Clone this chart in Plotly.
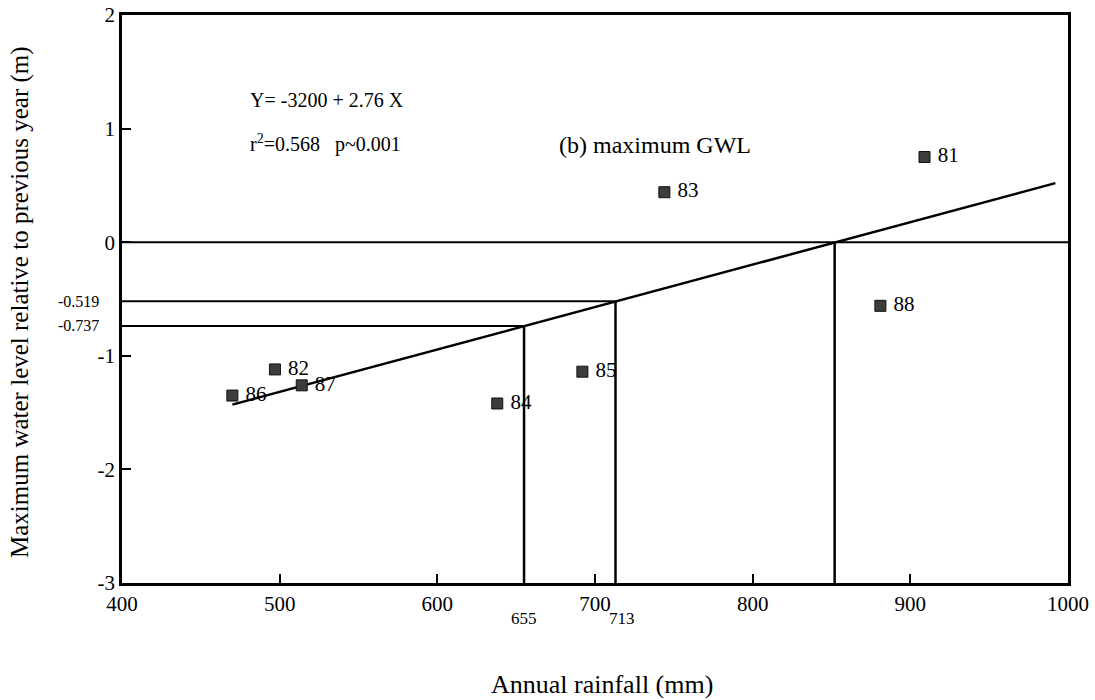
import plotly.graph_objects as go

# Data
years = ["81", "82", "83", "84", "85", "86", "87", "88"]
rainfall = [909, 497, 744, 638, 692, 470, 514, 881]
gwl_change = [0.75, -1.12, 0.44, -1.42, -1.14, -1.35, -1.26, -0.56]

reg_x = [470, 992]
reg_y = [-1.43, 0.52]

cross_x = [655, 713, 852]
cross_y = [-0.737, -0.519, 0.0]

x_ticks = [400, 500, 600, 700, 800, 900, 1000]
y_ticks = [-3, -2, -1, 0, 1, 2]

FONT = "Liberation Serif, Times New Roman, serif"

fig = go.Figure()

for cx, cy in zip(cross_x, cross_y):
    hx_end = 1000 if cy == 0 else cx
    fig.add_trace(go.Scatter(x=[400, hx_end], y=[cy, cy], mode="lines",
                             line=dict(color="black", width=2), showlegend=False, hoverinfo="skip"))
    fig.add_trace(go.Scatter(x=[cx, cx], y=[-3, cy], mode="lines",
                             line=dict(color="black", width=2.5), showlegend=False, hoverinfo="skip"))

fig.add_trace(go.Scatter(x=reg_x, y=reg_y, mode="lines",
                         line=dict(color="black", width=2.5), showlegend=False, hoverinfo="skip"))

fig.add_trace(go.Scatter(
    x=rainfall, y=gwl_change, mode="markers+text",
    text=[" " + y for y in years], textposition="middle right",
    textfont=dict(family=FONT, size=21, color="black"),
    marker=dict(symbol="square", size=11, color="#3c3c3c", line=dict(color="#111111", width=1)),
    showlegend=False, cliponaxis=False))

fig.update_xaxes(range=[400, 1000], tickvals=x_ticks, ticktext=[str(v) for v in x_ticks],
                 ticks="inside", ticklen=9, tickwidth=2, tickcolor="black",
                 showline=True, linecolor="black", linewidth=2.5, mirror=True,
                 showgrid=False, zeroline=False, automargin=False,
                 tickfont=dict(family=FONT, size=21, color="black"))
fig.update_yaxes(range=[-3, 2], tickvals=y_ticks, ticktext=[str(v) for v in y_ticks],
                 ticks="inside", ticklen=9, tickwidth=2, tickcolor="black",
                 showline=True, linecolor="black", linewidth=2.5, mirror=True,
                 showgrid=False, zeroline=False, automargin=False,
                 tickfont=dict(family=FONT, size=21, color="black"))

L, R, T, B = 122, 1068, 15, 583
def px(xp):
    return (xp - L) / (R - L)
def py(yp):
    return (B - yp) / (B - T)

ann = [
    dict(x=px(248), y=py(100), xref="paper", yref="paper", text="Y= -3200 + 2.76 X", showarrow=False,
         xanchor="left", yanchor="middle", font=dict(family=FONT, size=20, color="black")),
    dict(x=px(248), y=py(143), xref="paper", yref="paper", text="r<sup>2</sup>=0.568   p~0.001",
         showarrow=False, xanchor="left", yanchor="middle", font=dict(family=FONT, size=20, color="black")),
    dict(x=px(557), y=py(145), xref="paper", yref="paper", text="(b) maximum GWL", showarrow=False,
         xanchor="left", yanchor="middle", font=dict(family=FONT, size=24, color="black")),
]

for cx, dx in zip(cross_x[:2], [0, 6]):
    ann.append(dict(x=cx, y=0, xref="x", yref="paper", text=str(cx), showarrow=False,
                    xanchor="center", yanchor="middle", yshift=-35, xshift=dx,
                    font=dict(family=FONT, size=17, color="black")))
for cy in cross_y[:2]:
    ann.append(dict(x=0, y=cy, xref="paper", yref="y", text=f"{cy:.3f}", showarrow=False,
                    xanchor="right", yanchor="middle", xshift=-21,
                    font=dict(family=FONT, size=16, color="black")))

ann.append(dict(x=px(602), y=py(684), xref="paper", yref="paper", text="Annual rainfall (mm)",
                showarrow=False, xanchor="center", yanchor="middle",
                font=dict(family=FONT, size=26, color="black")))
ann.append(dict(x=px(20), y=py(302), xref="paper", yref="paper",
                text="Maximum water level relative to previous year (m)",
                showarrow=False, textangle=-90, xanchor="center", yanchor="middle",
                font=dict(family=FONT, size=25, color="black")))

fig.update_layout(
    width=1095, height=700,
    margin=dict(l=L, r=1095 - R, t=T, b=700 - B, autoexpand=False),
    paper_bgcolor="white", plot_bgcolor="white",
    annotations=ann,
    font=dict(family=FONT, color="black"),
)

fig.write_html("out.html")
